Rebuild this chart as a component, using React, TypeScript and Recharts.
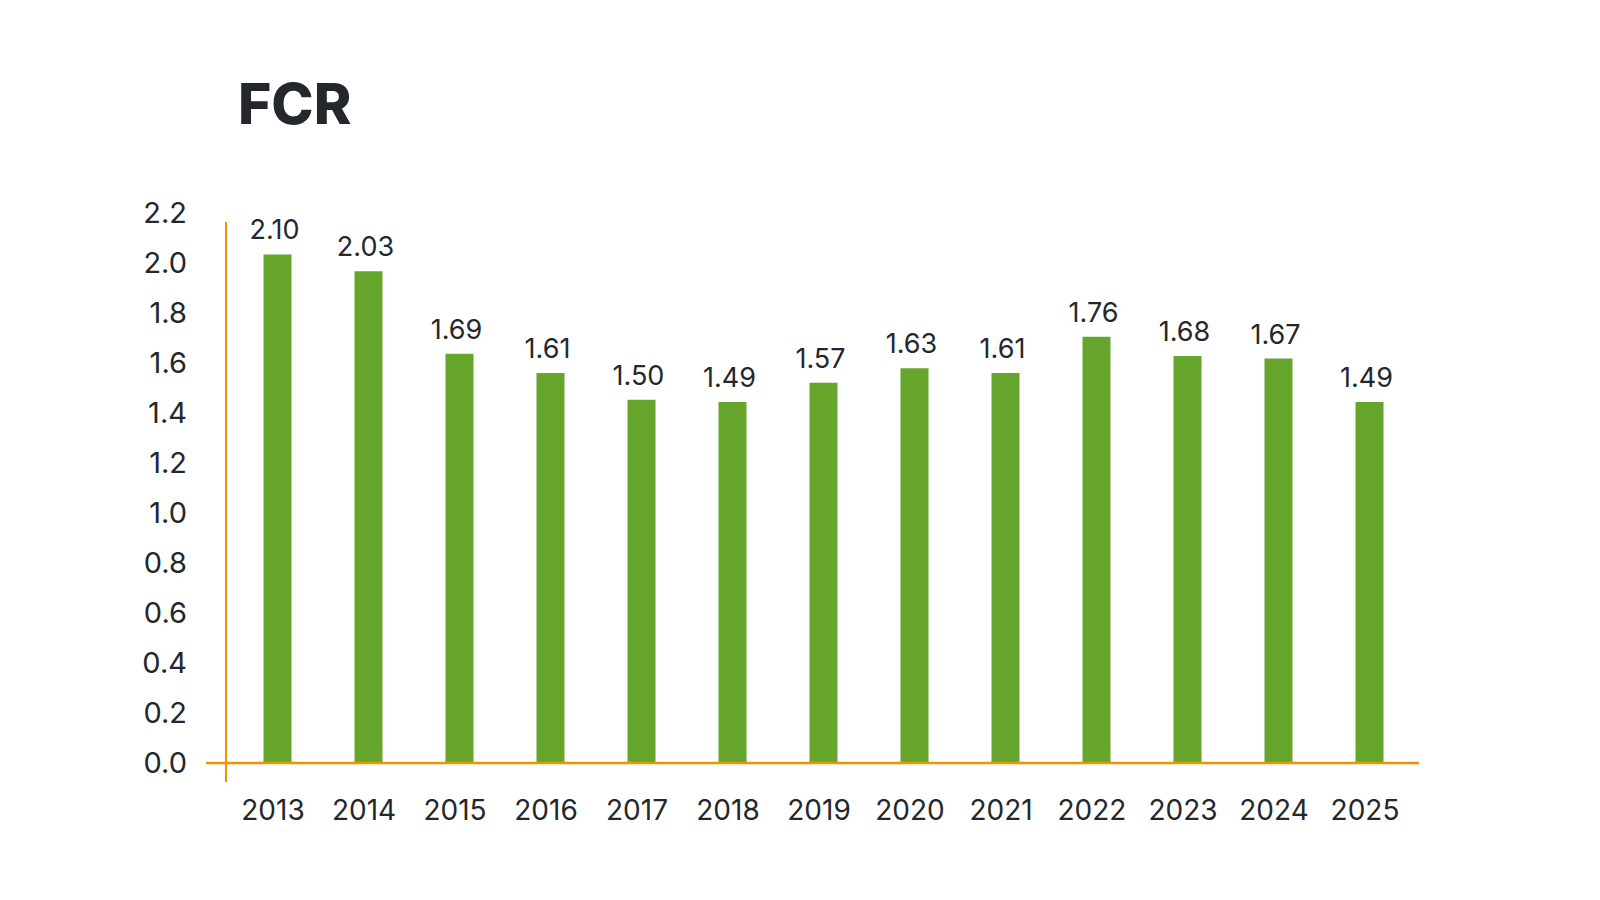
import React from 'react';
import { BarChart, Bar, XAxis, YAxis, LabelList } from 'recharts';

const years = ['2013', '2014', '2015', '2016', '2017', '2018', '2019', '2020', '2021', '2022', '2023', '2024', '2025'];
const fcrValues = [2.1, 2.03, 1.69, 1.61, 1.5, 1.49, 1.57, 1.63, 1.61, 1.76, 1.68, 1.67, 1.49];
const yTicks = [0, 0.2, 0.4, 0.6, 0.8, 1.0, 1.2, 1.4, 1.6, 1.8, 2.0, 2.2];

const data = years.map((year, i) => ({ year, fcr: fcrValues[i] }));

const GREEN = '#66a52c';
const ORANGE = '#f39200';
const TEXT = '#24272b';
const FONT = 'Inter, "Noto Sans", sans-serif';

export default function App() {
  return (
    <div style={{ position: 'absolute', left: 0, top: 0, width: 1600, height: 900, background: '#fff', fontFamily: FONT }}>
      <svg width={1600} height={900} style={{ position: 'absolute', left: 0, top: 0 }}>
        <text x={238} y={124} fill={TEXT} fontSize={57} fontWeight={800} fontFamily={FONT}>
          FCR
        </text>
      </svg>
      <div style={{ position: 'absolute', left: 0, top: 0 }}>
        <BarChart
          width={1600}
          height={900}
          data={data}
          margin={{ top: 213, right: 181, bottom: 77, left: 106 }}
        >
          <XAxis
            dataKey="year"
            height={60}
            padding={{ left: 25.5, right: 4.5 }}
            axisLine={{ stroke: ORANGE, strokeWidth: 2.5 }}
            tickLine={false}
            tickSize={0}
            tickMargin={37}
            tick={{ fill: TEXT, fontSize: 28, fontFamily: FONT, dx: -4 }}
            interval={0}
          />
          <YAxis
            yAxisId="ticks"
            type="number"
            domain={[0, 2.2]}
            ticks={yTicks}
            allowDataOverflow
            width={100}
            axisLine={false}
            tickLine={false}
            tickSize={0}
            tickMargin={19}
            tickFormatter={(v: number) => v.toFixed(1)}
            tick={{ fill: TEXT, fontSize: 29, fontFamily: FONT }}
            interval={0}
          />
          <YAxis yAxisId="bars" type="number" domain={[0, 2.2 * 250 / 242.2]} hide width={0} allowDataOverflow />
          <Bar dataKey="fcr" yAxisId="bars" fill={GREEN} barSize={28} isAnimationActive={false}>
            <LabelList
              dataKey="fcr"
              position="top"
              offset={15}
              formatter={(v: number) => Number(v).toFixed(2)}
              style={{ fill: TEXT, fontSize: 27, fontFamily: FONT, transform: 'translateX(-3px)' }}
            />
          </Bar>
        </BarChart>
      </div>
      <div
        style={{
          position: 'absolute',
          left: 225,
          top: 222,
          width: 2,
          height: 560,
          background: ORANGE,
        }}
      />
    </div>
  );
}
